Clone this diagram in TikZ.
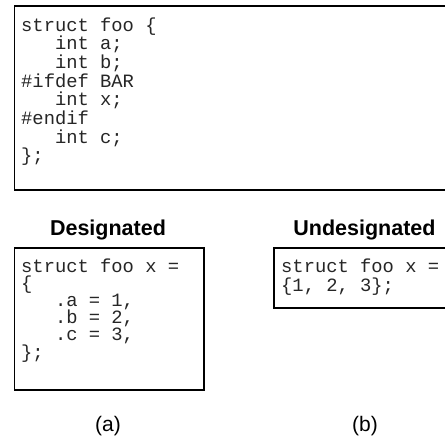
\documentclass[tikz,border=0pt]{standalone}
\usepackage{fontspec}
\setmainfont{Liberation Sans}
\newfontfamily\codefont{Liberation Mono}
\usetikzlibrary{positioning}
\tikzset{
  codebox/.style  = {draw, line width=1.5pt, rectangle, inner sep=0pt, anchor=north west},
  codeline/.style = {anchor=base west, inner sep=0pt, text=black!85,
                     font=\codefont\fontsize{18.8}{18.8}\selectfont},
  heading/.style  = {anchor=base, inner sep=0pt,
                     font=\bfseries\fontsize{21.5}{21.5}\selectfont},
  caption/.style  = {anchor=base, inner sep=0pt, font=\fontsize{21}{21}\selectfont},
}
\newcommand{\cw}{11.28}

\begin{document}
\begin{tikzpicture}[x=1pt,y=1pt]
\useasboundingbox (0,0) rectangle (445,-442);
\fill[white] (0,0) rectangle (445,-442);
\clip (0,0) rectangle (445,-442);
% the struct declaration
\node[codebox, minimum width=470, minimum height=184] (decl) at (13.5,-5) {};
\foreach \k/\ind/\txt in {1/0/{struct foo \{}, 2/3/{int a;}, 3/3/{int b;},
    4/0/{\#ifdef BAR}, 5/3/{int x;}, 6/0/{\#endif}, 7/3/{int c;}, 8/0/{\};}}{
  \node[codeline] (decl-\k) at ({21+\ind*\cw},{-31-(\k-1)*18.7}) {\txt};}
% (a) designated initializer
\node[heading] (desig-head) at (108,-235) {Designated};
\node[codebox, minimum width=189.5, minimum height=142] (desig) at (13.5,-247) {};
\foreach \k/\ind/\txt in {1/0/{struct foo x =}, 2/0/{\{}, 3/3/{.a = 1,},
    4/3/{.b = 2,}, 5/3/{.c = 3,}, 6/0/{\};}}{
  \node[codeline] (desig-\k) at ({21+\ind*\cw},{-272-(\k-1)*17.2}) {\txt};}
\node[caption] (cap-a) at (108,-431) {(a)};
% (b) undesignated initializer
\node[heading] (undesig-head) at (364.5,-235) {Undesignated};
\node[codebox, minimum width=200, minimum height=60] (undesig) at (273,-247) {};
\node[codeline] (undesig-1) at (281,-272) {struct foo x =};
\node[codeline] (undesig-2) at (281,-291) {\{1, 2, 3\};};
\node[caption] (cap-b) at (365,-431) {(b)};
\end{tikzpicture}
\end{document}
